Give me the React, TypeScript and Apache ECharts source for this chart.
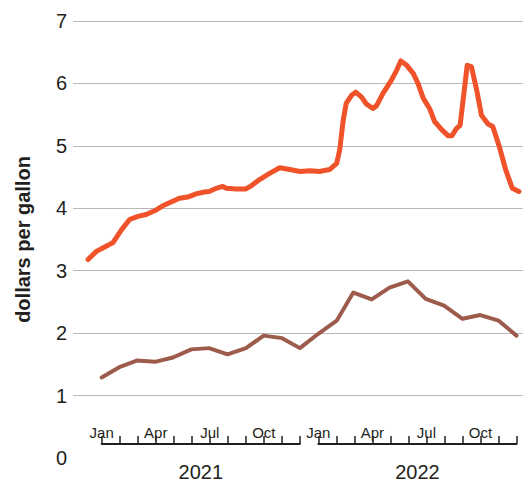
import React, { useEffect, useRef } from "react";
import * as echarts from "echarts";

// ---------- data ----------
const orangeDates = [
  "2020-12-09", "2020-12-23", "2021-01-06", "2021-01-20", "2021-02-03", "2021-02-17",
  "2021-03-03", "2021-03-17", "2021-03-31", "2021-04-14", "2021-04-28", "2021-05-12",
  "2021-05-26", "2021-06-09", "2021-06-23", "2021-07-01", "2021-07-13", "2021-07-24",
  "2021-07-30", "2021-08-16", "2021-09-01", "2021-09-10", "2021-09-24", "2021-10-11",
  "2021-10-28", "2021-11-14", "2021-12-01", "2021-12-18", "2022-01-03", "2022-01-20",
  "2022-02-01", "2022-02-06", "2022-02-12", "2022-02-17", "2022-02-26", "2022-03-05",
  "2022-03-15", "2022-03-23", "2022-04-03", "2022-04-09", "2022-04-20", "2022-05-04",
  "2022-05-13", "2022-05-20", "2022-05-30", "2022-06-10", "2022-06-18", "2022-06-27",
  "2022-07-08", "2022-07-16", "2022-07-28", "2022-08-08", "2022-08-14", "2022-08-22",
  "2022-08-28", "2022-09-02", "2022-09-09", "2022-09-16", "2022-09-25", "2022-10-03",
  "2022-10-14", "2022-10-22", "2022-11-02", "2022-11-13", "2022-11-24", "2022-12-05",
];
const orangeValues = [
  3.18, 3.31, 3.38, 3.45, 3.65, 3.82,
  3.87, 3.9, 3.96, 4.04, 4.1, 4.16,
  4.18, 4.23, 4.26, 4.27, 4.32, 4.35,
  4.32, 4.31, 4.31, 4.36, 4.46, 4.56,
  4.65, 4.62, 4.59, 4.6, 4.59, 4.62,
  4.72, 4.93, 5.41, 5.68, 5.81, 5.86,
  5.78, 5.67, 5.6, 5.64, 5.84, 6.05,
  6.21, 6.36, 6.29, 6.16, 6.0, 5.76,
  5.59, 5.39, 5.26, 5.16, 5.16, 5.28,
  5.33, 5.73, 6.29, 6.27, 5.89, 5.49,
  5.35, 5.31, 4.99, 4.61, 4.32, 4.27,
];

const brownDates = [
  "2021-01-01", "2021-02-01", "2021-03-01", "2021-04-01", "2021-05-01", "2021-06-01",
  "2021-07-01", "2021-08-01", "2021-09-01", "2021-10-01", "2021-11-01", "2021-12-01",
  "2022-01-01", "2022-02-01", "2022-03-01", "2022-04-01", "2022-05-01", "2022-06-01",
  "2022-07-01", "2022-08-01", "2022-09-01", "2022-10-01", "2022-11-01", "2022-12-01",
];
const brownValues = [
  1.29, 1.46, 1.56, 1.54, 1.61, 1.74, 1.76, 1.66, 1.76, 1.96, 1.92, 1.76,
  1.99, 2.2, 2.65, 2.54, 2.73, 2.83, 2.55, 2.44, 2.23, 2.29, 2.2, 1.96,
];

const monthNames = ["Jan", "Feb", "Mar", "Apr", "May", "Jun", "Jul", "Aug", "Sep", "Oct", "Nov", "Dec"];
const years = ["2021", "2022"];
const yTicks = { min: 0, max: 7, interval: 1 };
const yAxisTitle = "dollars per gallon";

// ---------- helpers ----------
const DAY = 86400000;
const toUTC = (s: string) => {
  const [y, m, d] = s.split("-").map(Number);
  return Date.UTC(y, m - 1, d);
};

const TEXT = "#231f20";
const FONT = "'Liberation Sans', Arial, Helvetica, sans-serif";

export default function App() {
  const ref = useRef<HTMLDivElement>(null);

  useEffect(() => {
    if (!ref.current) return;
    const chart = echarts.init(ref.current, undefined, { renderer: "svg" });

    // layout of the time scale
    const gridLeft = 73;
    const gridWidth = 450;
    const jan2021X = 101.7;
    const pxPerDay = 0.5934;
    const t2021 = toUTC("2021-01-01");
    const tMin = t2021 - ((jan2021X - gridLeft) / pxPerDay) * DAY;
    const tMax = tMin + (gridWidth / pxPerDay) * DAY;

    const bracketGrids = years.map((yr) => {
      const start = toUTC(`${yr}-01-01`);
      const end = toUTC(`${yr}-12-01`);
      return {
        left: gridLeft + ((start - tMin) / DAY) * pxPerDay,
        width: ((end - start) / DAY) * pxPerDay,
        top: 428,
        height: 30,
      };
    });

    const option: any = {
      animation: false,
      textStyle: { fontFamily: FONT },
      grid: [{ left: gridLeft, width: gridWidth, top: 21, bottom: 25 }, ...bracketGrids],
      xAxis: [
        { type: "time", gridIndex: 0, min: tMin, max: tMax, show: false },
        ...years.map((yr, i) => ({
          type: "category",
          gridIndex: i + 1,
          data: monthNames,
          boundaryGap: false,
          axisLine: { onZero: false, lineStyle: { color: TEXT, width: 2 } },
          axisTick: { inside: true, length: 8, interval: 0, lineStyle: { color: TEXT, width: 1.5 } },
          axisLabel: { inside: true, interval: 2, margin: 4, fontSize: 15, color: TEXT, fontFamily: FONT },
          splitLine: { show: false },
          name: yr,
          nameLocation: "middle",
          nameGap: 18,
          nameTextStyle: { fontSize: 20, color: TEXT, fontFamily: FONT },
        })),
      ],
      yAxis: [
        {
          type: "value",
          gridIndex: 0,
          min: yTicks.min,
          max: yTicks.max,
          interval: yTicks.interval,
          axisLine: { show: false },
          axisTick: { show: false },
          splitLine: { show: true, showMinLine: false, lineStyle: { color: "#b8b8b8", width: 1 } },
          axisLabel: { fontSize: 20, color: TEXT, margin: 6, fontFamily: FONT },
          name: yAxisTitle,
          nameLocation: "middle",
          nameGap: 40,
          nameTextStyle: { fontSize: 20, fontWeight: "bold", color: TEXT, fontFamily: FONT },
        },
        { type: "value", gridIndex: 1, show: false },
        { type: "value", gridIndex: 2, show: false },
      ],
      series: [
        {
          type: "line",
          xAxisIndex: 0,
          yAxisIndex: 0,
          symbol: "none",
          data: brownDates.map((d, i) => [toUTC(d), brownValues[i]]),
          lineStyle: { color: "#9d5b4c", width: 4, cap: "round", join: "round" },
        },
        {
          type: "line",
          xAxisIndex: 0,
          yAxisIndex: 0,
          symbol: "none",
          data: orangeDates.map((d, i) => [toUTC(d), orangeValues[i]]),
          lineStyle: { color: "#f0522a", width: 5, cap: "round", join: "round" },
        },
      ],
    };

    chart.setOption(option);
    return () => chart.dispose();
  }, []);

  return (
    <div
      ref={ref}
      style={{ position: "fixed", left: 0, top: 0, width: 523, height: 483, background: "#fff" }}
    />
  );
}
